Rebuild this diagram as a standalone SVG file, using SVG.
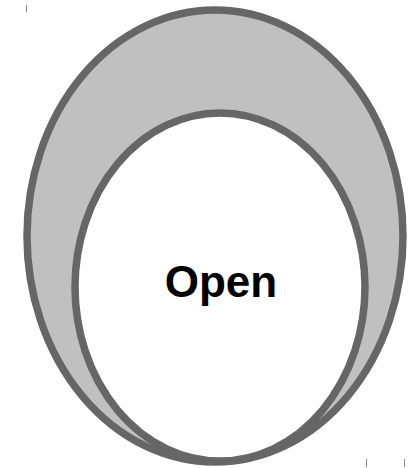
<svg xmlns="http://www.w3.org/2000/svg" width="416" height="468" viewBox="0 0 416 468">
<style>
.shape{stroke:#666666;stroke-width:7.5}
.tick{stroke:#888888;stroke-width:1}
.label{font-family:"Liberation Sans",Arial,sans-serif;font-weight:bold;font-size:44px;fill:#000000}
</style>
<rect width="416" height="468" fill="#ffffff"/>
<g id="ticks">
<line class="tick" x1="26.5" y1="5" x2="26.5" y2="12"/>
<line class="tick" x1="74.5" y1="108" x2="74.5" y2="116"/>
<line class="tick" x1="366.5" y1="459" x2="366.5" y2="467"/>
<line class="tick" x1="404.5" y1="459" x2="404.5" y2="467"/>
</g>
<g id="outer">
<ellipse class="shape" cx="215" cy="236" rx="188" ry="226" fill="#c0c0c0"/>
</g>
<g id="inner">
<ellipse class="shape" cx="220" cy="287" rx="145" ry="174" fill="#ffffff"/>
<text class="label" x="221" y="297" text-anchor="middle">Open</text>
</g>
<g id="connectors"></g>
</svg>
